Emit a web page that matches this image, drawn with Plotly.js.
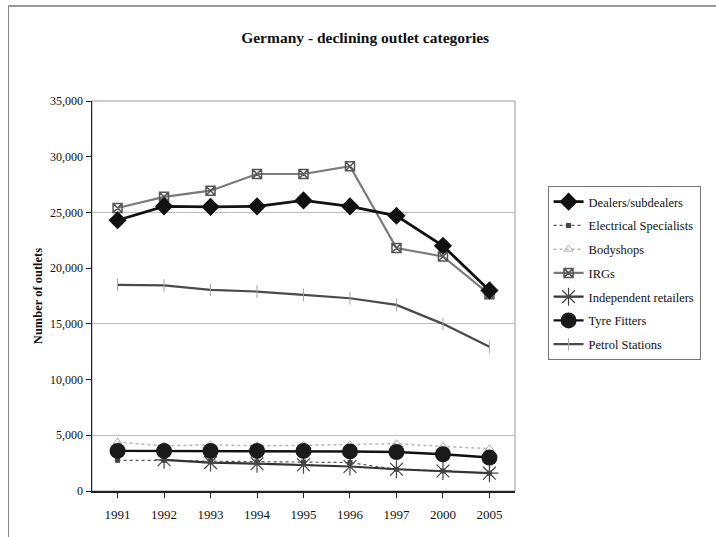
<!DOCTYPE html>
<html>
<head>
<meta charset="utf-8">
<script src="https://cdn.plot.ly/plotly-3.0.1.min.js"></script>
<style>
html,body{margin:0;padding:0;background:#fff;}
#chart{width:716px;height:537px;}
#frame{position:absolute;left:8px;top:5px;width:720px;height:540px;border-left:1px solid #8a8a8a;border-top:2px solid #9a9a9a;pointer-events:none;}
</style>
</head>
<body>
<div id="chart"></div>
<div id="frame"></div>
<script>
const years = ["1991","1992","1993","1994","1995","1996","1997","2000","2005"];
const dealers = [24300, 25550, 25500, 25550, 26080, 25550, 24700, 22000, 18000];
const electrical = [2750, 2750, 2680, 2620, 2600, 2550, 1950, 1800, 1600];
const bodyshops = [4400, 4050, 4150, 4050, 4100, 4150, 4250, 4000, 3800];
const irgs = [25400, 26400, 26950, 28450, 28450, 29150, 21800, 21050, 17650];
const independent = [null, 2800, 2550, 2450, 2350, 2200, 1950, 1800, 1600];
const tyre = [3600, 3600, 3600, 3600, 3600, 3550, 3500, 3300, 3000];
const petrol = [18500, 18450, 18050, 17900, 17600, 17300, 16700, 15000, 12950];
const names = ["Dealers/subdealers","Electrical Specialists","Bodyshops","IRGs","Independent retailers","Tyre Fitters","Petrol Stations"];

const serif = "Liberation Serif, Times New Roman, serif";

const traces = [
  {y: petrol, name: names[6], line:{color:'#4a4a4a', width:2.2}, marker:{symbol:'line-ns-open', size:9, color:'#a5a5a5', line:{width:1, color:'#a5a5a5'}}, legendrank:7},
  {y: irgs, name: names[3], line:{color:'#7a7a7a', width:2.2}, marker:{symbol:'square-x-open', size:9, color:'#555', line:{width:1.5, color:'#555'}}, legendrank:4},
  {y: dealers, name: names[0], line:{color:'#111', width:2.8}, marker:{symbol:'diamond', size:14, color:'#111'}, legendrank:1},
  {y: bodyshops, name: names[2], line:{color:'#b5b5b5', width:1.5, dash:'dot'}, marker:{symbol:'triangle-up-open', size:8, color:'#b0b0b0', line:{width:1, color:'#b0b0b0'}}, legendrank:3},
  {y: electrical, name: names[1], line:{color:'#555', width:1.2, dash:'dot'}, marker:{symbol:'square', size:5, color:'#444'}, legendrank:2},
  {y: independent, name: names[4], line:{color:'#333', width:2.2}, marker:{symbol:'asterisk-open', size:15, color:'#444', line:{width:1.2, color:'#444'}}, legendrank:5},
  {y: tyre, name: names[5], line:{color:'#111', width:2.4}, marker:{symbol:'circle', size:16, color:'#1a1a1a'}, legendrank:6}
].map((t,i) => Object.assign({x: years, type:'scatter', mode:'lines+markers', legendgroup:'g'+t.legendrank}, t));

// invisible helper trace for alternate gridlines
traces.push({x: years, y: dealers, yaxis:'y2', type:'scatter', mode:'none', showlegend:false, hoverinfo:'skip'});

const layout = {
  width:716, height:537,
  margin:{l:92, r:201, t:101, b:46},
  paper_bgcolor:'rgba(0,0,0,0)', plot_bgcolor:'#fff',
  font:{family:serif, size:12, color:'#111'},
  title:{text:'<b>Germany - declining outlet categories</b>', font:{family:serif, size:15.5, color:'#111'}, x:0.51, xanchor:'center', y:0.93, yanchor:'middle'},
  xaxis:{type:'category', showgrid:false, linecolor:'#222', linewidth:1.5, mirror:false, ticks:'outside', ticklen:5, tickcolor:'#222', ticklabelstandoff:6, tickfont:{family:serif, size:13, color:'#111'}, range:[-0.55, 8.55], showline:true, zeroline:false},
  yaxis:{range:[0,35000], dtick:5000, tickformat:',d', showgrid:false, zeroline:false, showline:true, linecolor:'#222', linewidth:1.5, ticks:'outside', ticklen:5, tickcolor:'#222', tickfont:{family:serif, size:12, color:'#111'},
         title:{text:'<b>Number of outlets</b>', font:{family:serif, size:12.5, color:'#111'}, standoff:4}},
  yaxis2:{overlaying:'y', range:[0,35000], tick0:5000, dtick:10000, showgrid:true, gridcolor:'#bdbdbd', gridwidth:1, showticklabels:false, ticks:'', zeroline:false, showline:false},
  legend:{x:1.077, xanchor:'left', y:0.782, yanchor:'top', bordercolor:'#777', borderwidth:1, bgcolor:'#fff', font:{family:serif, size:12.5, color:'#111'}, tracegroupgap:4.5, traceorder:'grouped'},
  shapes:[
    {type:'rect', xref:'paper', yref:'paper', x0:0, x1:1, y0:0, y1:1, line:{color:'#999', width:1}, layer:'below'}
  ]
};

Plotly.newPlot('chart', traces, layout, {displayModeBar:false, staticPlot:true});
</script>
</body>
</html>
